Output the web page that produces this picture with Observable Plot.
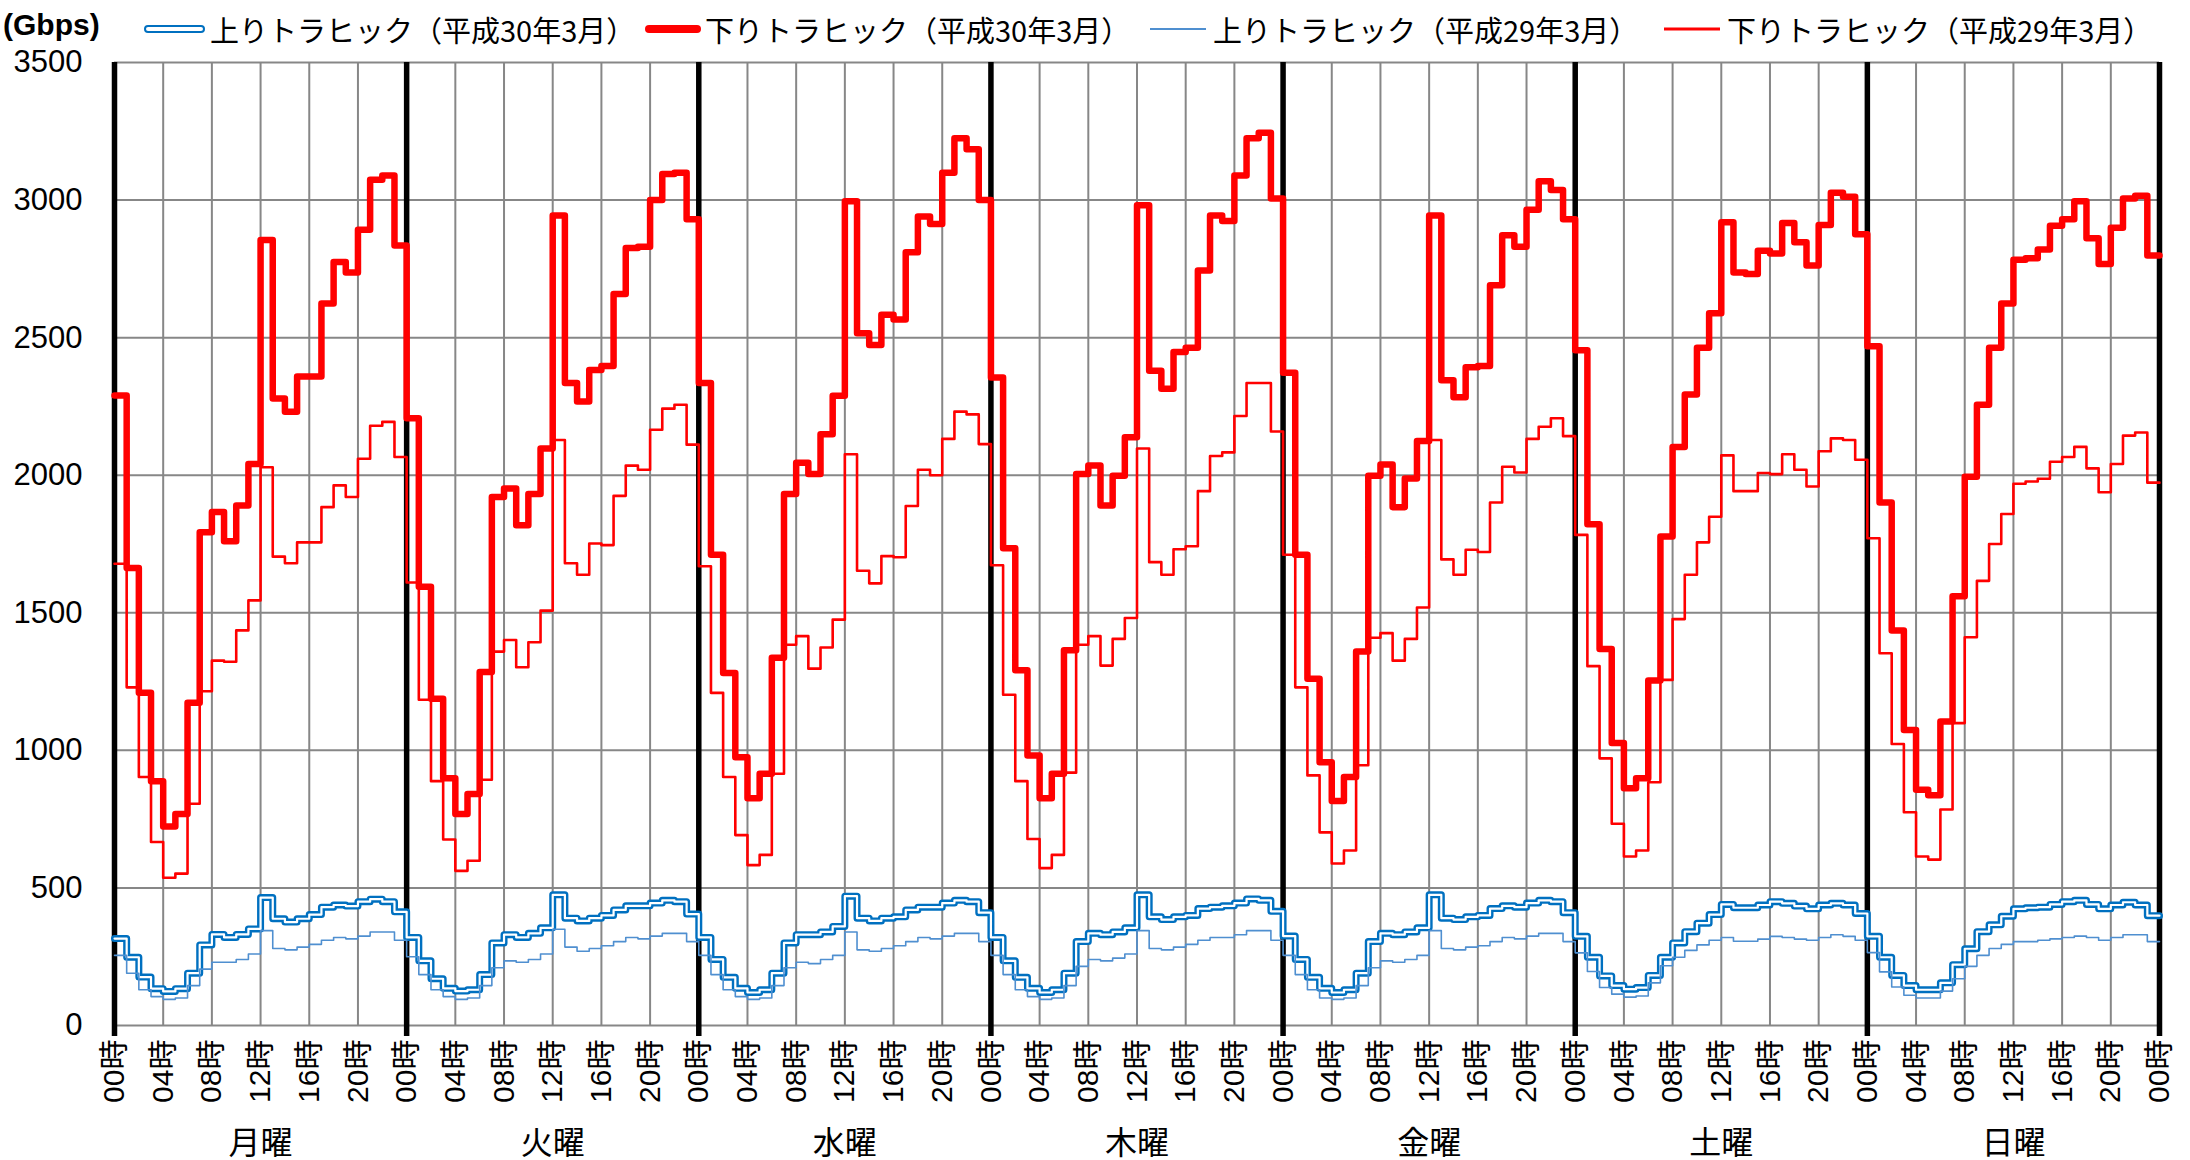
<!DOCTYPE html>
<html><head><meta charset="utf-8">
<script src="https://cdn.jsdelivr.net/npm/d3@7"></script>
<script src="https://cdn.jsdelivr.net/npm/@observablehq/plot@0.6"></script>
<style>
html,body{margin:0;padding:0;background:#fff;}
body{width:2190px;height:1160px;overflow:hidden;color:#000;}
#legend{position:relative;height:50px;width:2190px;font-family:"Noto Sans CJK JP",sans-serif;z-index:2;}
#legend .unit{position:absolute;left:3px;top:25px;transform:translateY(-50%);font-family:"Liberation Sans",Arial,sans-serif;font-weight:bold;font-size:30px;line-height:1;}
#legend .sw{position:absolute;top:28.5px;transform:translateY(-50%);box-sizing:border-box;}
#legend .tx{position:absolute;top:29px;transform:translateY(-50%);font-size:29px;white-space:nowrap;line-height:1;}
#chart svg{overflow:visible;display:block;}
</style></head><body>
<div id="legend"></div>
<div id="chart"></div>
<script>
// ---- data ----
const days = ["月曜","火曜","水曜","木曜","金曜","土曜","日曜"];
const seriesNames = ["上りトラヒック（平成30年3月）","下りトラヒック（平成30年3月）","上りトラヒック（平成29年3月）","下りトラヒック（平成29年3月）"];
const yTicks = [0,500,1000,1500,2000,2500,3000,3500];
const hourTicks = d3.range(0,169,4);

// 下りトラヒック（平成30年3月） hourly, per day
const down2018 = [
 [2290,1663,1209,888,723,769,1173,1793,1866,1760,1890,2041,2855,2279,2231,2359,2359,2624,2775,2737,2892,3074,3089,2835],
 [2207,1595,1188,899,769,841,1285,1921,1952,1818,1932,2097,2944,2335,2268,2382,2397,2659,2826,2830,3000,3095,3099,2930],
 [2335,1711,1281,975,826,915,1337,1932,2045,2004,2149,2289,2996,2516,2473,2583,2566,2810,2940,2913,3099,3225,3185,3000],
 [2355,1735,1291,981,826,915,1364,2004,2035,1890,1998,2138,2981,2380,2314,2448,2463,2744,2944,2924,3089,3225,3245,3006],
 [2372,1711,1260,957,816,903,1359,1998,2039,1884,1988,2124,2944,2345,2283,2392,2397,2690,2872,2830,2965,3068,3037,2930],
 [2454,1822,1368,1027,862,899,1254,1777,2103,2293,2463,2589,2919,2737,2731,2816,2806,2917,2847,2762,2909,3027,3012,2876],
 [2469,1901,1436,1074,857,837,1105,1560,1994,2256,2463,2624,2783,2789,2820,2907,2930,2996,2861,2768,2899,3006,3016,2799]
];
// 下りトラヒック（平成29年3月）
const down2017 = [
 [1678,1229,903,667,537,552,806,1215,1326,1322,1436,1545,2029,1704,1680,1756,1756,1884,1963,1921,2060,2180,2194,2066],
 [1610,1184,888,676,562,599,893,1359,1401,1302,1393,1508,2128,1680,1638,1752,1746,1925,2035,2020,2165,2242,2256,2111],
 [1669,1209,903,692,583,620,915,1384,1415,1297,1374,1475,2076,1653,1607,1706,1702,1888,2020,2000,2132,2231,2221,2113],
 [1673,1202,888,678,572,620,919,1384,1415,1308,1405,1481,2097,1684,1638,1731,1742,1942,2070,2083,2215,2335,2335,2159],
 [1711,1229,909,702,589,636,946,1409,1426,1326,1405,1519,2128,1694,1638,1729,1721,1901,2031,2010,2132,2176,2207,2142],
 [1783,1306,971,733,614,636,884,1256,1477,1638,1756,1849,2072,1942,1942,2008,2004,2076,2020,1959,2087,2134,2128,2056],
 [1771,1353,1023,775,614,603,785,1099,1411,1616,1750,1859,1969,1977,1987,2049,2066,2103,2025,1938,2041,2144,2155,1973]
];
// 上りトラヒック（平成30年3月）
const up2018 = [
 [316,248,176,134,124,134,190,293,331,320,331,351,465,388,376,388,403,430,438,434,450,459,450,413],
 [320,235,170,135,125,130,185,300,330,320,335,355,475,390,380,390,400,420,435,435,445,455,450,405],
 [320,240,175,135,120,130,190,300,330,330,340,360,470,390,380,390,395,420,430,430,445,455,450,410],
 [320,235,175,135,120,130,190,305,335,330,340,355,475,395,385,395,400,425,430,435,445,460,455,415],
 [325,240,175,135,120,130,190,305,335,330,340,355,475,390,385,395,400,425,435,430,445,455,450,410],
 [324,248,180,145,132,138,182,248,300,341,372,403,440,428,428,438,450,444,434,424,438,444,438,407],
 [324,248,182,145,130,130,155,221,279,341,366,397,424,428,430,440,450,455,440,424,438,448,438,399]
];
// 上りトラヒック（平成29年3月）
const up2017 = [
 [255,190,130,105,95,100,145,205,230,230,240,260,345,280,275,285,295,310,320,315,325,340,340,310],
 [250,185,130,105,95,100,145,210,235,230,240,260,350,285,270,280,290,305,320,315,325,335,335,305],
 [255,185,130,105,95,100,145,210,230,225,240,255,340,275,270,280,290,305,320,315,325,335,335,305],
 [255,185,130,105,95,100,145,215,240,235,245,260,345,280,275,285,295,310,320,320,330,345,345,310],
 [255,185,130,100,95,100,145,210,235,230,240,255,345,280,275,285,290,305,320,315,325,335,335,305],
 [264,196,138,114,103,107,155,217,248,273,293,310,320,306,306,314,324,320,314,310,320,330,324,310],
 [265,195,140,110,100,100,125,170,215,255,280,295,305,305,310,315,320,325,320,310,320,330,330,305]
];

// ---- build step tables ----
function toSteps(nested){
  const flat = nested.flat();
  const pts = flat.map((v,i)=>({t:i, v}));
  pts.push({t:flat.length, v:flat[flat.length-1]});
  return pts;
}
const sUp18 = toSteps(up2018), sDown18 = toSteps(down2018), sUp17 = toSteps(up2017), sDown17 = toSteps(down2017);
const dayStarts = d3.range(0, days.length*24+1, 24);
const dayMids = days.map((d,i)=>i*24+12);

const BLUE = "#0070c0", LBLUE = "#4f8fd0", RED = "#ff0000";

// ---- legend ----
const legend = document.getElementById("legend");
legend.innerHTML = `<div class="unit">(Gbps)</div>`;
const items = [
  {sw:144, tx:210, style:`width:61px;height:8px;border:2.5px solid ${BLUE};border-radius:5px;background:#fff;`},
  {sw:645, tx:705, style:`width:56px;height:8px;background:${RED};border-radius:4px;`},
  {sw:1150, tx:1213, style:`width:56px;height:2px;background:${LBLUE};`},
  {sw:1664, tx:1727, style:`width:56px;height:3px;background:${RED};`}
];
items.forEach((it,i)=>{
  legend.insertAdjacentHTML("beforeend",
    `<div class="sw" style="left:${it.sw}px;${it.style}"></div><div class="tx" style="left:${it.tx}px">${seriesNames[i]}</div>`);
});

// ---- chart ----
const fmtHour = d => String(d%24).padStart(2,"0") + "時";
const gridStyle = {stroke:"#878787", strokeOpacity:1, strokeWidth:2};
const chart = Plot.plot({
  width: 2190, height: 1110,
  marginTop: 12, marginLeft: 114, marginRight: 31, marginBottom: 135,
  x: {domain:[0,168]},
  y: {domain:[0,3500]},
  style: {fontFamily:"'Liberation Sans', Arial, 'Noto Sans CJK JP', sans-serif", background:"transparent", color:"#000", overflow:"visible"},
  marks: [
    Plot.gridY(yTicks, gridStyle),
    Plot.gridX(hourTicks, gridStyle),
    Plot.ruleX(dayStarts, {stroke:"#000", strokeWidth:5.5, insetBottom:-11}),
    Plot.axisY(yTicks, {tickSize:0, tickPadding:32, fontSize:31, tickFormat:d=>String(d), label:null}),
    Plot.axisX(hourTicks, {tickSize:0, tickPadding:14, tickRotate:-90, tickFormat:fmtHour, fontSize:30, label:null}),
    Plot.axisX(dayMids, {tickSize:0, tickPadding:106, tickFormat:d=>days[Math.floor(d/24)], fontSize:32, label:null, fontFamily:"'Noto Sans CJK JP', sans-serif"}),
    Plot.line(sUp18, {x:"t", y:"v", curve:"step-after", stroke:BLUE, strokeWidth:7}),
    Plot.line(sUp18, {x:"t", y:"v", curve:"step-after", stroke:"#fff", strokeWidth:2.2}),
    Plot.line(sDown18, {x:"t", y:"v", curve:"step-after", stroke:RED, strokeWidth:6.5}),
    Plot.line(sUp17, {x:"t", y:"v", curve:"step-after", stroke:LBLUE, strokeWidth:1.6}),
    Plot.line(sDown17, {x:"t", y:"v", curve:"step-after", stroke:RED, strokeWidth:2.6})
  ]
});
document.getElementById("chart").appendChild(chart);
</script>
</body></html>
